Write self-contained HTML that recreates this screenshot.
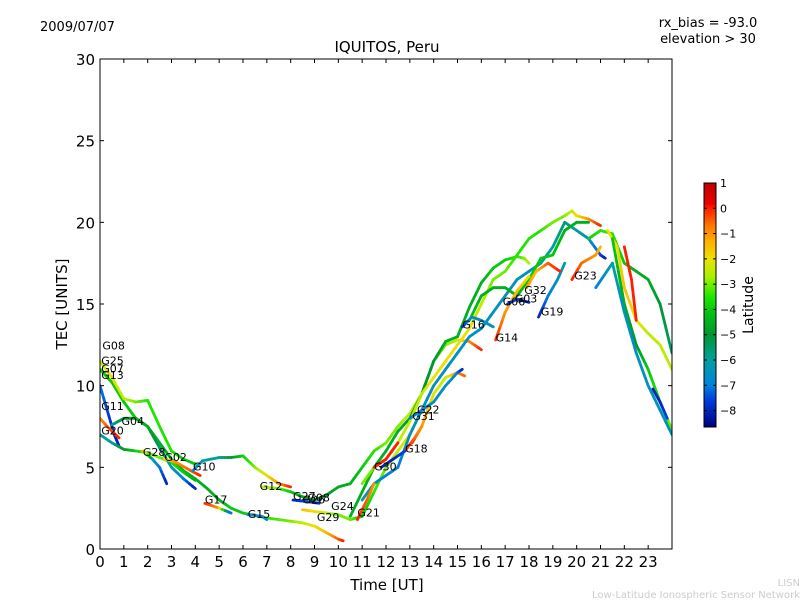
<!DOCTYPE html>
<html><head><meta charset="utf-8"><style>
body{margin:0;background:#fff}
svg text{font-family:"DejaVu Sans","Liberation Sans",sans-serif}
</style></head><body>
<svg id="chart" width="800" height="600" xmlns="http://www.w3.org/2000/svg">
<defs></defs>
<rect width="800" height="600" fill="#fff"/>
<text x="40" y="31" font-size="13">2009/07/07</text>
<text x="387" y="52" font-size="15" text-anchor="middle">IQUITOS, Peru</text>
<text x="708" y="27" font-size="13" text-anchor="middle">rx_bias = -93.0</text>
<text x="708" y="43" font-size="13" text-anchor="middle">elevation &gt; 30</text>
<text x="387" y="590" font-size="15" text-anchor="middle">Time [UT]</text>
<text transform="translate(67,304) rotate(-90)" font-size="15" text-anchor="middle">TEC [UNITS]</text>
<text x="800" y="586" font-size="10" fill="#ccc" text-anchor="end">LISN</text>
<text x="800" y="598" font-size="10" fill="#ccc" text-anchor="end">Low-Latitude Ionospheric Sensor Network</text>
<g id="tracks"></g>
<g id="axes"></g>
<g id="cbar"></g>
</svg>
<script>
const xTicks=[0,1,2,3,4,5,6,7,8,9,10,11,12,13,14,15,16,17,18,19,20,21,22,23];
const yTicks=[0,5,10,15,20,25,30];
const cbTicks=[1,0,-1,-2,-3,-4,-5,-6,-7,-8];
const trackTimes=[
[0,0.5,1,1.5,2,2.5,3,3.5,4,4.5,5,5.5,6,7,8,8.5,9,9.5,10,10.2],
[0,0.5,1,1.5,2,2.5,3,3.5,4],
[0,0.3,0.6,0.8],
[0,0.3,0.8],
[0,0.5,1,2,2.5,3,3.5,4],
[0.5,1,1.5,2,2.5,3,3.5,4],
[1.8,2.2,2.5,2.8],
[2.7,3.2,3.8,4.2],
[3.9,4.3,5,5.5,6,6.5,7,7.5,8],
[6.8,7.5,8,8.5,9,9.5,10,10.5,11,11.5,12,12.5,13,13.5,14,14.5,15,15.5,16],
[4.4,5,5.5],
[6.2,6.8,7],
[8.1,8.7,9.2],
[8.5,9,9.5,10,10.5,11,11.5,12,12.5,13,13.5],
[10.5,11,11.5,12,12.5,13,13.5,14,14.5,15,15.5,16,16.5,17,17.5,17.8,18],
[11,11.5,12,12.5,13,13.5,14,14.5,15,15.5,16,16.5,17,17.5,18,18.5,19,19.5,19.8,20,20.5,21],
[11,11.5,12,12.5,13,13.5,14,14.5,15,15.5,16,16.5,17,17.5,18,18.5,19,19.5,20,20.5,21,21.2],
[15.5,16,16.5,17,17.5,18,18.5,19,19.5,20,20.5],
[20.5,21,21.5,22,22.5,23,23.5,24],
[21.3,21.7,22,22.5,23,23.5,24],
[21.5,22,22.5,23,23.5,24],
[20.8,21.5,22,22.5,23,23.5,24],
[22,22.3,22.5],
[19.8,20.2,20.8,21],
[23.2,23.5,23.8],
[16.6,17,17.5,18],
[18.4,18.8,19.2,19.5],
[17.1,17.5,18],
[17.9,18.3,18.8,19.3],
[13.1,13.5,14,14.5,15,15.3],
[12.8,13.2,13.5],
[11.5,12,12.5],
[11.8,12.3,12.8],
[13,13.5,14,14.5,15,15.2],
[10.8,11.2,11.5],
[15.2,15.6,16,16.5]
];
const trackTec=[
[11,10.2,9,8,7.5,6.5,5.5,4.8,4.3,3.7,3,2.5,2.2,1.9,1.7,1.6,1.4,1.0,0.6,0.5],
[11.5,10.5,9.2,9,9.1,7.5,6,5.5,5.2],
[10,8.5,7,6.3],
[8,7.5,6.8],
[7,6.5,6.1,5.9,5.6,5.3,4.7,4.2],
[7.6,8,8,7.5,6.2,5,4.3,3.7],
[6,5.5,5,4],
[5.5,5.3,4.8,4.5],
[4.8,5.4,5.6,5.6,5.7,5,4.5,4,3.8],
[3.8,3.7,3.5,3.2,3.0,3.3,3.8,4,5,6,6.5,7.5,8.3,9.5,11.5,12.5,12.8,12.7,12.2],
[2.8,2.5,2.2],
[2.1,2.0,1.8],
[3.0,2.9,2.8],
[2.4,2.3,2.2,2.1,1.8,2.0,3.5,5,6,7,8.5],
[2,3.5,5,6,7.2,8,9.5,11.5,12.7,13,14.8,16.3,17.2,17.7,17.9,17.8,17.5],
[4,5,5.5,6.5,7.8,9.5,10.5,11.5,12.5,13.5,15,16.5,17,18,19,19.5,20,20.4,20.7,20.4,20.2,19.8],
[3,4,4.5,5,7,8.5,10,11,12,13,13.5,14.5,15.5,16.5,17,17.5,18.5,20,19.5,19,18,17.8],
[14,15.5,16,16,15.5,16.5,17.8,18,19.5,20,20],
[19,19.5,19.3,17.5,17,16.5,15,12],
[19.5,18.5,16,14,13.2,12.5,11],
[19,15,12.5,11,9,7.3],
[16,17.5,14.5,12,10,8.5,7],
[18.5,16.5,14],
[16.5,17.5,18,18.5],
[9.8,9,8],
[12.8,14.5,15.8,16.7],
[14.2,15.5,16.5,17.5],
[15,15.3,15.1],
[16,17,17.5,17],
[6.5,7.5,9.5,10.5,10.8,10.6],
[6,6.8,7.5],
[5,5.5,6.5],
[5,5.5,6],
[8,8.5,9,10,10.8,11],
[1.8,3,4],
[13.6,14.2,14,13.6]
];
const trackLat=[
[-4,-4,-4,-4,-4.5,-4.5,-4.5,-4.5,-4.5,-4.5,-4.5,-4,-4,-3.5,-3,-2.5,-2,-1.5,-0.5,0],
[-2.5,-2,-2.5,-3,-3.5,-3.5,-3.5,-4,-4],
[-7,-7.5,-8,-8],
[-1,-0.5,0],
[-6,-6,-5,-3,-3,-3.5,-4,-4.5],
[-6,-5,-4.5,-4.5,-5.5,-6,-7,-8],
[-0.5,-6,-7,-8],
[-2,-1,-0.5,0],
[-7,-6,-6,-5,-4,-3,-2,-1,0],
[-2.5,-3,-4,-4.5,-5,-5,-4.5,-4.5,-4,-3.5,-3,-3,-2.5,-2.5,-3,-3,-2.5,-1,0],
[0,-1,-8],
[-6.5,-6.5,-6.5],
[-8,-7.5,-8],
[-1.5,-2,-2.5,-3,-3,-4,-3.5,-3,-2.5,-2,-2],
[-4.5,-4.5,-4.5,-4.5,-4.5,-5,-5,-5,-4.5,-4.5,-4.5,-4.5,-4,-4,-3.5,-3,-2.5],
[-3,-3,-2.5,-2.5,-2.5,-2.5,-2,-2,-2,-2,-2.5,-3,-3,-3.5,-3.5,-3.5,-3,-3,-2.5,-2,-1,0],
[-6,-6.5,-7,-7,-6.5,-6.5,-6.5,-6.5,-6.5,-6.5,-6.5,-6.5,-6.5,-6.5,-6.5,-6,-6,-5.5,-6,-6.5,-7.5,-8],
[-4,-4.5,-4.5,-4.5,-4.5,-4,-4,-4,-4.5,-4.5,-4.5],
[-4,-3.5,-3.5,-4,-4.5,-4.5,-5,-5.5],
[-2,-2,-1.5,-2,-2.5,-2.5,-2.5],
[-4,-4.5,-5,-4,-3.5,-3],
[-7,-6,-6.5,-6.5,-6.5,-6.5,-6.5],
[0,0,0],
[0,-0.5,-1,-1.5],
[-8,-8,-7.5],
[0,-1,-1.5,-2],
[-8,-7,-6.5,-6],
[-8,-7.5,-8],
[-1,-1.5,-0.5,0],
[0,-1,-2,-2.5,-1,-0.5],
[0,-0.5,-1],
[0,0,0],
[-8,-8,-7.5],
[-7,-7,-6.5,-6.5,-7,-8],
[0,-0.5,-1],
[-8,-6.5,-6.5,-6.5]
];
const labelNames=["G08","G25","G07","G13","G11","G20","G04","G28","G02","G10","G17","G15","G12","G27","G08","G26","G29","G24","G21","G30","G18","G31","G22","G16","G14","G06","G03","G32","G19","G23"];
const labelTimes=[0.1,0.05,0.05,0.05,0.05,0.05,0.9,1.8,2.7,3.9,4.4,6.2,6.7,8.1,8.7,8.5,9.1,9.7,10.8,11.5,12.8,13.1,13.3,15.2,16.6,16.9,17.4,17.8,18.5,19.9];
const labelTec=[12.2,11.3,10.8,10.4,8.5,7.0,7.6,5.7,5.4,4.8,2.8,1.9,3.6,3.0,2.9,2.8,1.7,2.4,2.0,4.8,5.9,7.9,8.3,13.5,12.7,14.9,15.1,15.6,14.3,16.5];

const NS="http://www.w3.org/2000/svg";
const X0=100,X1=672,Y0=549,Y1=59;
const xs=t=>X0+t*(X1-X0)/24;
const ys=v=>Y0-v*(Y0-Y1)/30;
const CB_T=183,CB_B=427,VMAX=1,VMIN=-8.65;
const cbY=v=>CB_T+(VMAX-v)*(CB_B-CB_T)/(VMAX-VMIN);
const stops=[[1,[190,0,0]],[0.2,[230,0,0]],[0,[255,30,0]],[-0.7,[255,120,0]],[-1.3,[255,175,0]],[-2,[235,225,0]],[-2.7,[170,240,0]],[-3.5,[30,230,0]],[-4.2,[0,190,20]],[-5,[0,150,50]],[-6,[0,160,160]],[-7,[0,130,220]],[-7.6,[0,60,220]],[-8.65,[0,0,130]]];
function col(v){
  if(v>=stops[0][0])return `rgb(${stops[0][1]})`;
  for(let i=0;i<stops.length-1;i++){const a=stops[i],b=stops[i+1];
    if(v<=a[0]&&v>=b[0]){const f=(a[0]-v)/(a[0]-b[0]);const c=a[1].map((x,k)=>Math.round(x+(b[1][k]-x)*f));return `rgb(${c})`;}}
  return `rgb(${stops[stops.length-1][1]})`;
}
function mk(tag,attrs,parent){const e=document.createElementNS(NS,tag);for(const k in attrs)e.setAttribute(k,attrs[k]);parent.appendChild(e);return e;}
const svg=document.getElementById('chart');
const tg=document.getElementById('tracks');
const clip=mk('clipPath',{id:'pc'},svg.querySelector('defs'));mk('rect',{x:X0,y:Y1,width:X1-X0,height:Y0-Y1},clip);
tg.setAttribute('clip-path','url(#pc)');
for(let i=0;i<trackTimes.length;i++){
  const g=mk('g',{},tg);
  
  
  const T=trackTimes[i],V=trackTec[i],L=trackLat[i];
  for(let j=0;j<T.length-1;j++){
    const n=4;
    for(let k=0;k<n;k++){
      const f0=k/n,f1=(k+1)/n;
      const la=L[j]+(L[j+1]-L[j])*(f0+f1)/2;
      const s=mk('line',{x1:xs(T[j]+(T[j+1]-T[j])*f0),y1:ys(V[j]+(V[j+1]-V[j])*f0),x2:xs(T[j]+(T[j+1]-T[j])*f1),y2:ys(V[j]+(V[j+1]-V[j])*f1),stroke:col(la),'stroke-width':2.8,'stroke-linecap':'round'},g);
      
      
    }
  }
}
for(let i=0;i<labelNames.length;i++){
  const t=mk('text',{x:xs(labelTimes[i]),y:ys(labelTec[i]),'font-size':11},tg);
  t.textContent=labelNames[i];
  
  
}
const ax=document.getElementById('axes');
const fr=mk('rect',{x:X0,y:Y1,width:X1-X0,height:Y0-Y1,fill:'none',stroke:'#000','stroke-width':1},ax);


xTicks.forEach(t=>{
  mk('line',{x1:xs(t),x2:xs(t),y1:Y0,y2:Y0-4,stroke:'#000'},ax);
  mk('line',{x1:xs(t),x2:xs(t),y1:Y1,y2:Y1+4,stroke:'#000'},ax);
  const l=mk('text',{x:xs(t),y:Y0+18,'font-size':15,'text-anchor':'middle'},ax);l.textContent=t;
  
  
});
yTicks.forEach(v=>{
  mk('line',{x1:X0,x2:X0+4,y1:ys(v),y2:ys(v),stroke:'#000'},ax);
  mk('line',{x1:X1,x2:X1-4,y1:ys(v),y2:ys(v),stroke:'#000'},ax);
  const l=mk('text',{x:X0-5,y:ys(v)+6,'font-size':15,'text-anchor':'end'},ax);l.textContent=v;
  
  
});
const cg=document.getElementById('cbar');
for(let y=CB_T;y<CB_B;y++){
  const v=VMAX-(y+0.5-CB_T)*(VMAX-VMIN)/(CB_B-CB_T);
  mk('rect',{x:704,y:y,width:12,height:1.2,fill:col(v)},cg);
}
const cbf=mk('rect',{x:704,y:CB_T,width:12,height:CB_B-CB_T,fill:'none',stroke:'#000'},cg);


cbTicks.forEach(v=>{
  mk('line',{x1:704,x2:707,y1:cbY(v),y2:cbY(v),stroke:'#000'},cg);
  mk('line',{x1:716,x2:713,y1:cbY(v),y2:cbY(v),stroke:'#000'},cg);
  const l=mk('text',{x:720,y:cbY(v)+4,'font-size':11},cg);l.textContent=v<0?'\u2212'+(-v):v;
  
  
});
const lt=mk('text',{transform:'translate(753,305) rotate(-90)','font-size':14,'text-anchor':'middle'},cg);
lt.textContent='Latitude';


</script>
</body></html>
